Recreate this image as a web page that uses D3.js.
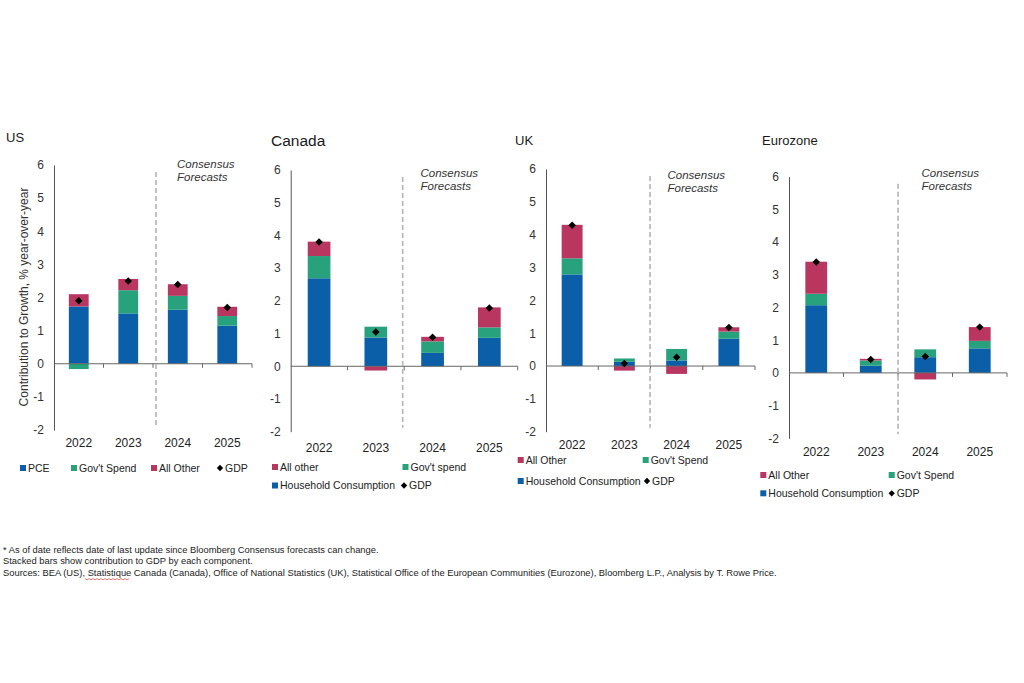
<!DOCTYPE html>
<html><head><meta charset="utf-8">
<script src="https://cdn.jsdelivr.net/npm/d3@7"></script>
<style>
html,body{margin:0;padding:0;background:#fff;}
svg{display:block;font-family:"Liberation Sans",Arial,sans-serif;}
</style></head>
<body>
<svg id="chart" width="1024" height="683"></svg>
<script>
// ---------- DATA ----------
const years = ["2022", "2023", "2024", "2025"];
const yTicks = [-2, -1, 0, 1, 2, 3, 4, 5, 6];

const usPCE   = [1.73, 1.52, 1.63, 1.15];
const usGov   = [-0.16, 0.70, 0.42, 0.29];
const usOther = [0.37, 0.34, 0.35, 0.28];
const usGDP   = [1.90, 2.50, 2.39, 1.70];

const caHH    = [2.69, 0.88, 0.41, 0.87];
const caGov   = [0.68, 0.33, 0.35, 0.32];
const caOther = [0.44, -0.13, 0.14, 0.61];
const caGDP   = [3.80, 1.05, 0.89, 1.78];

const ukHH    = [2.79, 0.13, 0.17, 0.83];
const ukGov   = [0.49, 0.10, 0.35, 0.22];
const ukOther = [1.02, -0.14, -0.24, 0.13];
const ukGDP   = [4.29, 0.08, 0.27, 1.17];

const ezHH    = [2.07, 0.22, 0.48, 0.75];
const ezGov   = [0.35, 0.16, 0.24, 0.23];
const ezOther = [0.98, 0.05, -0.20, 0.42];
const ezGDP   = [3.39, 0.41, 0.50, 1.40];

const titles = ["US", "Canada", "UK", "Eurozone"];
const usLegend = ["PCE", "Gov't Spend", "All Other", "GDP"];
const caLegend = ["Household Consumption", "Gov't spend", "All other", "GDP"];
const ukLegend = ["Household Consumption", "Gov't Spend", "All Other", "GDP"];
const ezLegend = ["Household Consumption", "Gov't Spend", "All Other", "GDP"];
const forecastLabel = ["Consensus", "Forecasts"];
const yAxisTitle = "Contribution to Growth, % year-over-year";
const footnotes = [
  "* As of date reflects date of last update since Bloomberg Consensus forecasts can change.",
  "Stacked bars show contribution to GDP by each component.",
  "Sources: BEA (US), Statistique Canada (Canada), Office of National Statistics (UK), Statistical Office of the European Communities (Eurozone), Bloomberg L.P., Analysis by T. Rowe Price."
];

// ---------- STYLE / LAYOUT ----------
const keys = ["hh", "gov", "other"];
const colors = {hh: "#0b5ea8", gov: "#27a27d", other: "#b8365f"};

const panels = [
  {title: titles[0], hh: usPCE, gov: usGov, other: usOther, gdp: usGDP, legend: usLegend,
   x0: 54, w: 198, yTop: 165, yBot: 430, tx: 6, ty: 142, tsize: 13, yearY: 447, dashDx: 3,
   consX: 177, consY: 168,
   leg: [{k: "hh", x: 23, y: 468}, {k: "gov", x: 74, y: 468}, {k: "other", x: 154, y: 468}, {k: "gdp", x: 220, y: 468}]},
  {title: titles[1], hh: caHH, gov: caGov, other: caOther, gdp: caGDP, legend: caLegend,
   x0: 290.7, w: 227, yTop: 170, yBot: 431.7, tx: 271, ty: 146, tsize: 15.5, yearY: 452, dashDx: -1.5,
   consX: 420.5, consY: 176.5,
   leg: [{k: "other", x: 275, y: 467}, {k: "gov", x: 405.5, y: 467}, {k: "hh", x: 275, y: 485.5}, {k: "gdp", x: 404, y: 485.5}]},
  {title: titles[2], hh: ukHH, gov: ukGov, other: ukOther, gdp: ukGDP, legend: ukLegend,
   x0: 546, w: 209, yTop: 169, yBot: 431.7, tx: 515, ty: 145, tsize: 13, yearY: 449, dashDx: -0.5,
   consX: 667.5, consY: 179,
   leg: [{k: "other", x: 520.7, y: 460}, {k: "gov", x: 645.7, y: 460}, {k: "hh", x: 520.7, y: 481}, {k: "gdp", x: 647, y: 481}]},
  {title: titles[3], hh: ezHH, gov: ezGov, other: ezOther, gdp: ezGDP, legend: ezLegend,
   x0: 789, w: 218, yTop: 176.7, yBot: 438.3, tx: 762, ty: 145, tsize: 13, yearY: 456, dashDx: 0,
   consX: 921.5, consY: 176.5,
   leg: [{k: "other", x: 763.3, y: 475}, {k: "gov", x: 891.7, y: 475}, {k: "hh", x: 763.3, y: 493.3}, {k: "gdp", x: 891.7, y: 493.3}]}
];

const svg = d3.select("#chart");
const diamond = d3.symbol().type(d3.symbolSquare).size(28);

panels.forEach(p => {
  const g = svg.append("g");
  const rows = years.map((yr, i) => ({year: yr, hh: p.hh[i], gov: p.gov[i], other: p.other[i], gdp: p.gdp[i]}));
  const x = d3.scaleBand().domain(years).range([p.x0, p.x0 + p.w]).paddingInner(0.6).paddingOuter(0.3);
  const y = d3.scaleLinear().domain([-2, 6]).range([p.yBot, p.yTop]);
  const stacked = d3.stack().keys(keys).offset(d3.stackOffsetDiverging)(rows);

  // title
  g.append("text").attr("x", p.tx).attr("y", p.ty).attr("font-size", p.tsize).attr("fill", "#1a1a1a").text(p.title);

  // bars
  stacked.forEach(layer => {
    g.append("g").selectAll("rect").data(layer).join("rect")
      .attr("x", d => x(d.data.year))
      .attr("width", x.bandwidth())
      .attr("y", d => y(Math.max(d[0], d[1])))
      .attr("height", d => Math.abs(y(d[0]) - y(d[1])))
      .attr("fill", colors[layer.key]);
  });

  // y axis
  const ya = g.append("g").attr("transform", `translate(${p.x0},0)`)
    .call(d3.axisLeft(y).tickValues(yTicks).tickSize(0).tickSizeOuter(0).tickPadding(10).tickFormat(d => String(d)));
  ya.select(".domain").attr("stroke", "#555");
  ya.selectAll("text").attr("font-size", 12).attr("fill", "#333").attr("font-family", "Liberation Sans, Arial, sans-serif");

  // zero line with ticks at band boundaries
  g.append("line").attr("x1", p.x0).attr("x2", p.x0 + p.w).attr("y1", y(0)).attr("y2", y(0)).attr("stroke", "#666");
  const step = x.step();
  d3.range(1, years.length + 1).forEach(k => {
    g.append("line").attr("x1", p.x0 + step * k).attr("x2", p.x0 + step * k)
      .attr("y1", y(0)).attr("y2", y(0) + 4).attr("stroke", "#666");
  });

  // year labels
  g.append("g").selectAll("text").data(years).join("text")
    .attr("x", d => x(d) + x.bandwidth() / 2).attr("y", p.yearY)
    .attr("text-anchor", "middle").attr("font-size", 12).attr("fill", "#222").text(d => d);

  // forecast divider
  const dx = p.x0 + step * 2 + p.dashDx;
  g.append("line").attr("x1", dx).attr("x2", dx).attr("y1", y(6) + 7).attr("y2", y(-2) - 4)
    .attr("stroke", "#b5b5b5").attr("stroke-width", 1.6).attr("stroke-dasharray", "5,3");
  g.append("text").attr("x", p.consX).attr("y", p.consY).attr("font-size", 11.5).attr("font-style", "italic")
    .attr("fill", "#333")
    .selectAll("tspan").data(forecastLabel).join("tspan")
    .attr("x", p.consX).attr("dy", (d, i) => i === 0 ? 0 : 13.3).text(d => d);

  // GDP markers
  g.append("g").selectAll("path").data(rows).join("path")
    .attr("d", diamond)
    .attr("transform", d => `translate(${x(d.year) + x.bandwidth() / 2},${y(d.gdp)}) rotate(45)`)
    .attr("fill", "#000");

  // legend
  const labelFor = {hh: p.legend[0], gov: p.legend[1], other: p.legend[2], gdp: p.legend[3]};
  p.leg.forEach(l => {
    if (l.k === "gdp") {
      g.append("path").attr("d", d3.symbol().type(d3.symbolSquare).size(20))
        .attr("transform", `translate(${l.x},${l.y}) rotate(45)`).attr("fill", "#000");
    } else {
      g.append("rect").attr("x", l.x - 3).attr("y", l.y - 3).attr("width", 6).attr("height", 6).attr("fill", colors[l.k]);
    }
    g.append("text").attr("x", l.x + 5).attr("y", l.y + 3.8).attr("font-size", 10.5).attr("fill", "#222").text(labelFor[l.k]);
  });
});

// y-axis title (US)
svg.append("text").attr("transform", "translate(28,297) rotate(-90)").attr("text-anchor", "middle")
  .attr("font-size", 12).attr("fill", "#333").text(yAxisTitle);

// footnotes
const fs = 9.35;
const fn = svg.append("g");
footnotes.forEach((t, i) => {
  fn.append("text").attr("x", 3).attr("y", 553 + i * 11.3).attr("font-size", fs).attr("fill", "#222").text(t);
});
// spell-check underline under "Statistique"
const tmp = fn.append("text").attr("font-size", fs).attr("x", 3).attr("y", -50).text("Sources: BEA (US), ");
const w0 = tmp.node().getComputedTextLength();
tmp.text("Statistique");
const w1 = tmp.node().getComputedTextLength();
tmp.remove();
const uy = 553 + 2 * 11.3 + 3;
const pts = d3.range(0, Math.ceil(w1 / 2) + 1).map(k => [3 + w0 + k * 2, uy + (k % 2 ? 1.2 : 0)]);
fn.append("path").attr("d", d3.line()(pts)).attr("fill", "none").attr("stroke", "#e05050").attr("stroke-width", 0.8);
</script>
</body></html>
